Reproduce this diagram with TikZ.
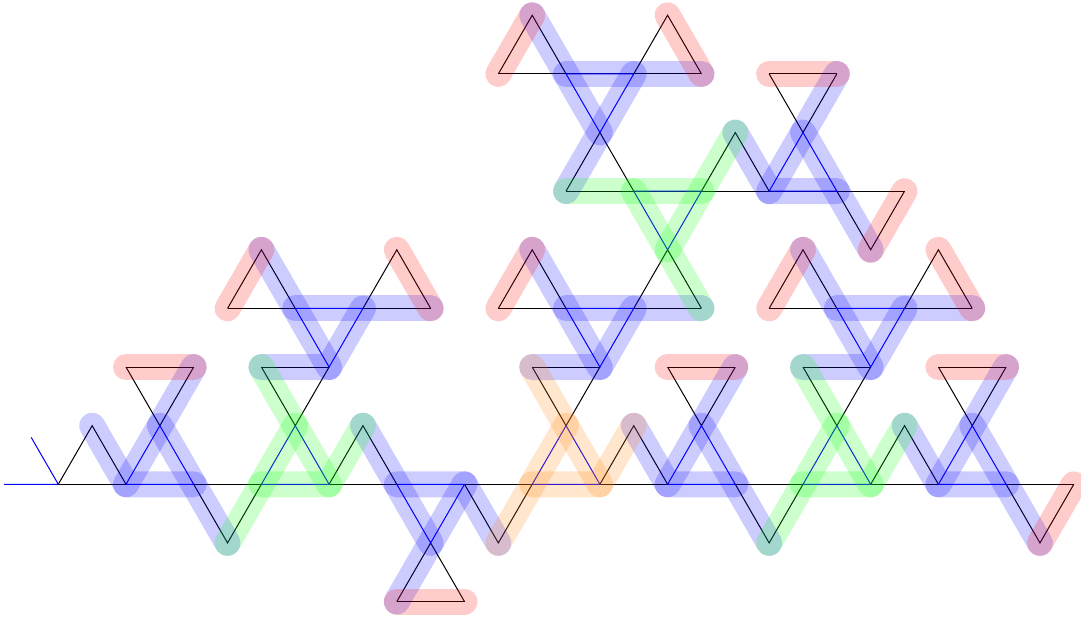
\documentclass[tikz,border=0pt]{standalone}
\begin{document}
\begin{tikzpicture}[x=33.85pt,y=58.63pt,
  thinblack/.style={draw=black,line width=1pt},
  thinblue/.style={draw=blue,line width=1pt},
  band/.style={line width=26pt,line cap=round,line join=round,draw opacity=0.2},
  bandblue/.style={band,draw=blue},
  bandred/.style={band,draw=red},
  bandgreen/.style={band,draw=green},
  bandorange/.style={band,draw=orange}]
\useasboundingbox (-58.3pt,-133.7pt) rectangle (1022.7pt,484.3pt);
% thin black lines
\draw[thinblack] (0,0)--(30,0) (5,3)--(11,3) (13,3)--(19,3) (21,3)--(27,3)
  (15,5)--(25,5) (13,7)--(19,7) (21,7)--(23,7) (2,2)--(4,2) (6,2)--(8,2)
  (14,2)--(16,2) (18,2)--(20,2) (22,2)--(24,2) (26,2)--(28,2) (10,-2)--(12,-2);
\draw[thinblack] (0,0)--(1,1)--(2,0) (2,2)--(3,1)--(4,2) (4,0)--(5,-1)--(6,0) (6,2)--(7,1)--(8,2)
  (8,0)--(9,1)--(10,0) (10,-2)--(11,-1)--(12,-2) (12,0)--(13,-1)--(14,0) (14,2)--(15,1)--(16,2)
  (16,0)--(17,1)--(18,0) (18,2)--(19,1)--(20,2) (20,0)--(21,-1)--(22,0) (22,2)--(23,1)--(24,2)
  (24,0)--(25,1)--(26,0) (26,2)--(27,1)--(28,2) (28,0)--(29,-1)--(30,0)
  (5,3)--(6,4)--(7,3) (9,3)--(10,4)--(11,3)
  (13,3)--(14,4)--(15,3) (17,3)--(18,4)--(19,3)
  (21,3)--(22,4)--(23,3) (25,3)--(26,4)--(27,3)
  (13,7)--(14,8)--(15,7) (17,7)--(18,8)--(19,7) (15,5)--(16,6)--(17,5)
  (19,5)--(20,6)--(21,5) (21,7)--(22,6)--(23,7) (23,5)--(24,4)--(25,5);
% thin blue lines
\draw[thinblue] (0,0)--(-1.6,0) (0,0)--(-0.8,0.8)
  (2,0)--(3,1)--(4,0)--cycle (6,0)--(7,1)--(8,0)--cycle
  (10,0)--(11,-1)--(12,0)--cycle (14,0)--(15,1)--(16,0)--cycle
  (18,0)--(19,1)--(20,0)--cycle (22,0)--(23,1)--(24,0)--cycle
  (26,0)--(27,1)--(28,0)--cycle
  (7,3)--(8,2)--(9,3)--cycle (15,3)--(16,2)--(17,3)--cycle (23,3)--(24,2)--(25,3)--cycle
  (15,7)--(16,6)--(17,7)--cycle (17,5)--(18,4)--(19,5)--cycle (21,5)--(22,6)--(23,5)--cycle;
% blue bands
\draw[bandblue] (1,1)--(2,0)--(4,0);
\draw[bandblue] (2,0)--(4,2);
\draw[bandblue] (3,1)--(5,-1);
\draw[bandblue] (13,-1)--(12,0)--(10,0);
\draw[bandblue] (12,0)--(10,-2);
\draw[bandblue] (11,-1)--(9,1);
\draw[bandblue] (17,1)--(18,0)--(20,0);
\draw[bandblue] (18,0)--(20,2);
\draw[bandblue] (19,1)--(21,-1);
\draw[bandblue] (25,1)--(26,0)--(28,0);
\draw[bandblue] (26,0)--(28,2);
\draw[bandblue] (27,1)--(29,-1);
\draw[bandblue] (6,2)--(8,2)--(9,3);
\draw[bandblue] (6,4)--(8,2);
\draw[bandblue] (7,3)--(11,3);
\draw[bandblue] (14,2)--(16,2)--(17,3);
\draw[bandblue] (14,4)--(16,2);
\draw[bandblue] (15,3)--(19,3);
\draw[bandblue] (22,2)--(24,2)--(25,3);
\draw[bandblue] (22,4)--(24,2);
\draw[bandblue] (23,3)--(27,3);
\draw[bandblue] (14,8)--(16,6);
\draw[bandblue] (15,5)--(17,7);
\draw[bandblue] (15,7)--(19,7);
\draw[bandblue] (20,6)--(21,5)--(23,5);
\draw[bandblue] (23,7)--(21,5);
\draw[bandblue] (22,6)--(24,4);
% red bands
\draw[bandred] (2,2)--(4,2);
\draw[bandred] (10,-2)--(12,-2);
\draw[bandred] (18,2)--(20,2);
\draw[bandred] (26,2)--(28,2);
\draw[bandred] (29,-1)--(30,0);
\draw[bandred] (5,3)--(6,4);
\draw[bandred] (10,4)--(11,3);
\draw[bandred] (13,3)--(14,4);
\draw[bandred] (21,3)--(22,4);
\draw[bandred] (26,4)--(27,3);
\draw[bandred] (13,7)--(14,8);
\draw[bandred] (18,8)--(19,7);
\draw[bandred] (21,7)--(23,7);
\draw[bandred] (24,4)--(25,5);
% green bands
\draw[bandgreen] (5,-1)--(7,1);
\draw[bandgreen] (6,2)--(8,0);
\draw[bandgreen] (6,0)--(8,0)--(9,1);
\draw[bandgreen] (21,-1)--(23,1);
\draw[bandgreen] (22,2)--(24,0);
\draw[bandgreen] (22,0)--(24,0)--(25,1);
\draw[bandgreen] (15,5)--(19,5);
\draw[bandgreen] (17,5)--(19,3);
\draw[bandgreen] (20,6)--(18,4);
% orange bands
\draw[bandorange] (13,-1)--(15,1);
\draw[bandorange] (14,2)--(16,0);
\draw[bandorange] (14,0)--(16,0)--(17,1);
\end{tikzpicture}
\end{document}
